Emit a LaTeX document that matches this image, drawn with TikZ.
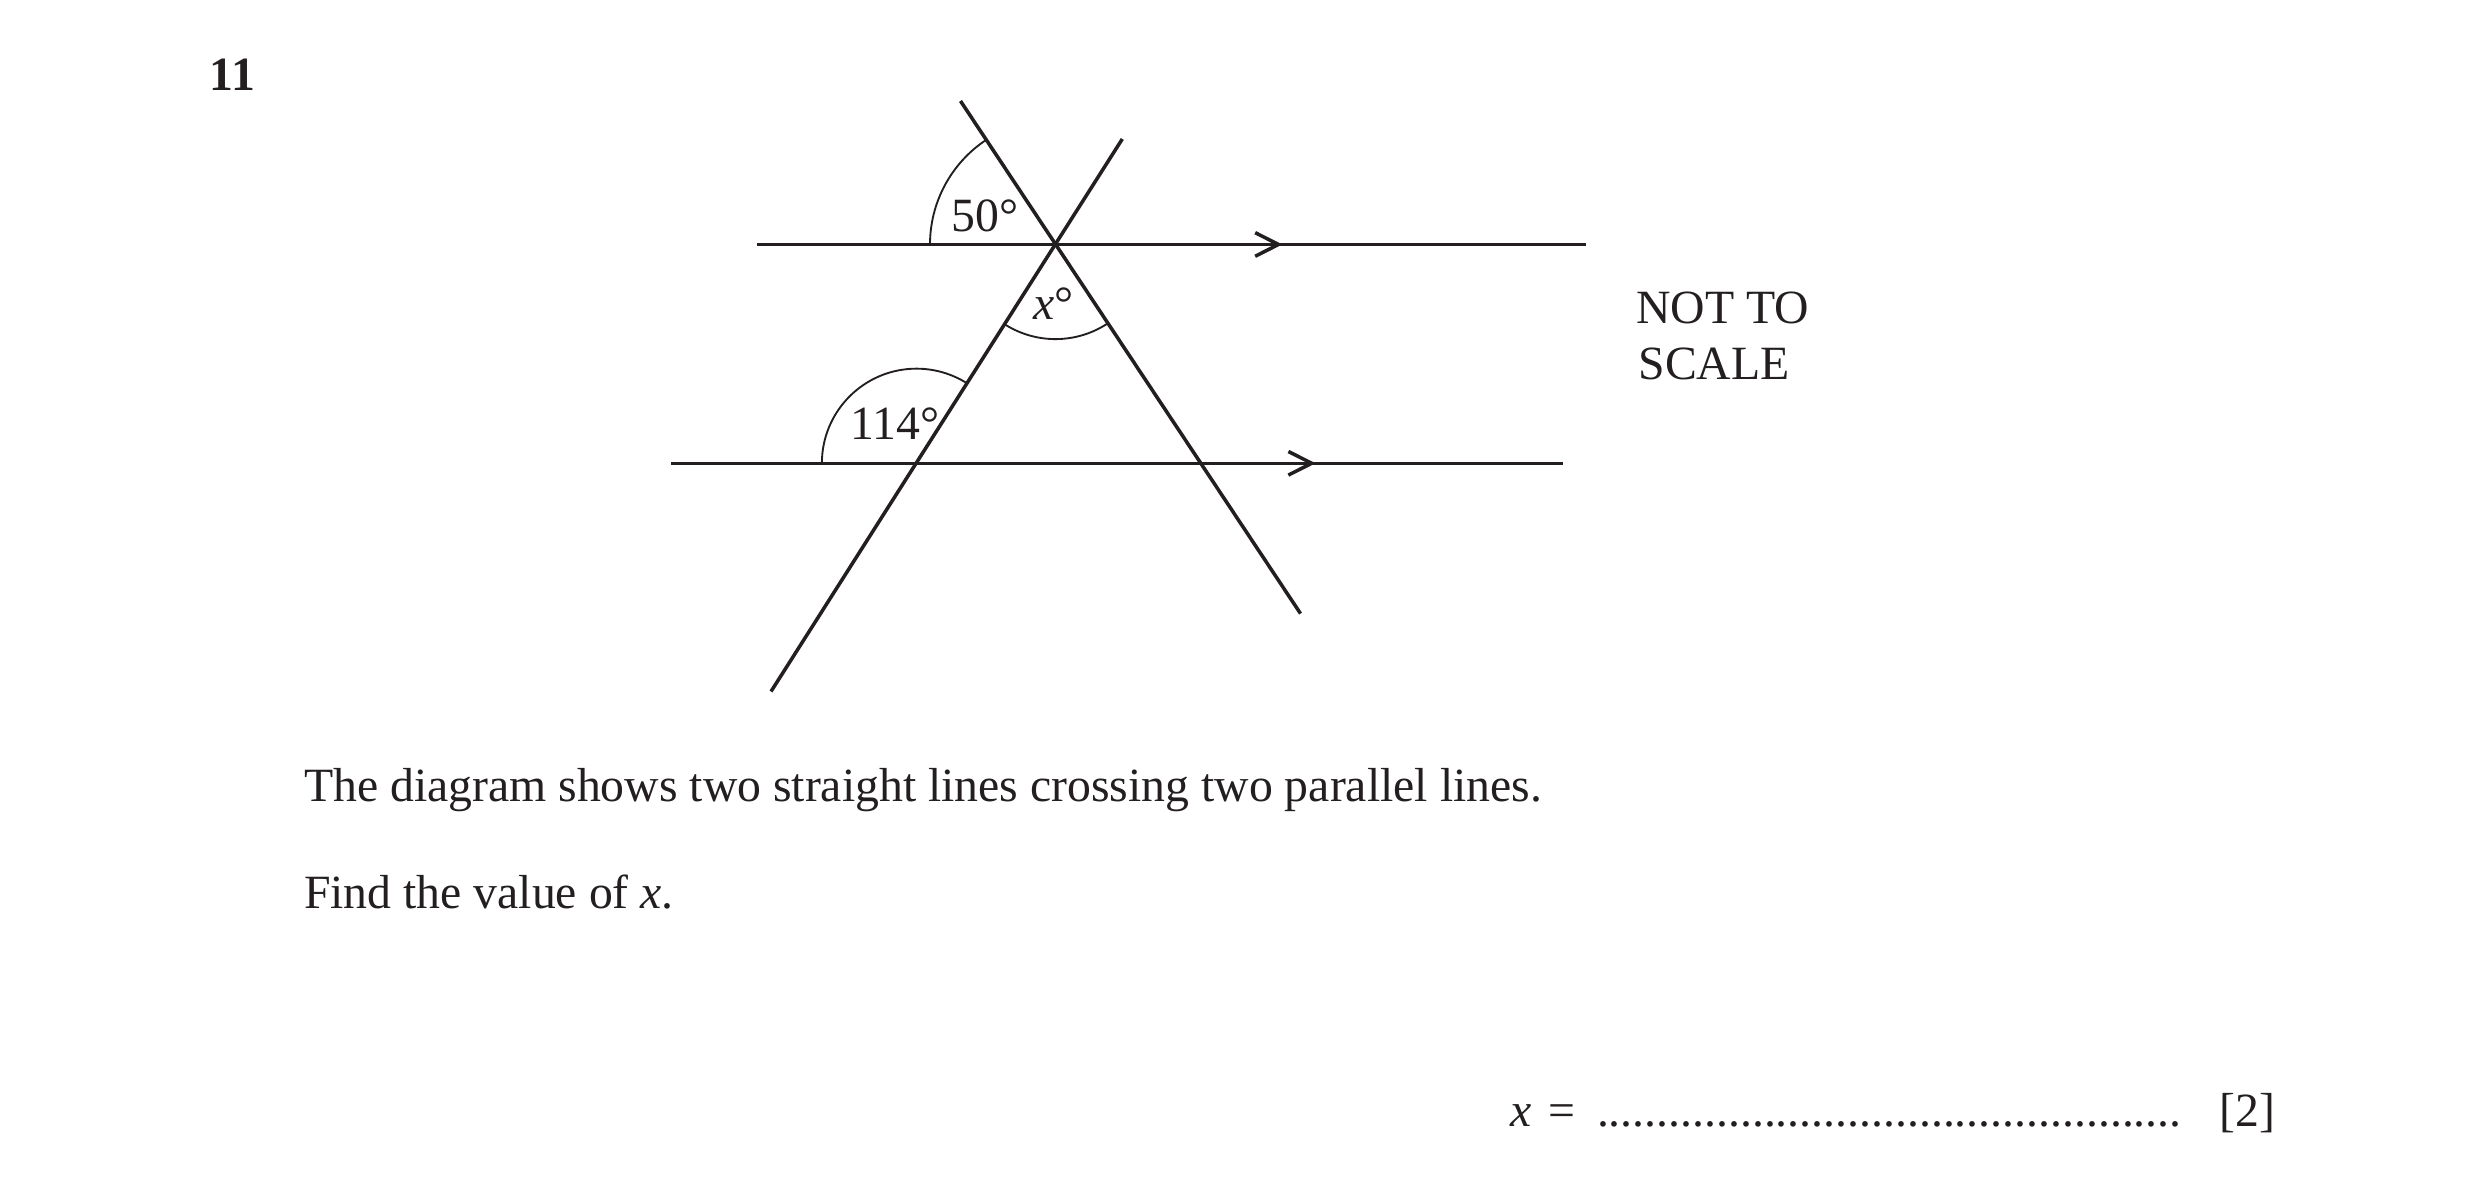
\documentclass[tikz,border=0pt]{standalone}
\usepackage{fontspec}
\setmainfont{Liberation Serif}
\definecolor{ink}{RGB}{35,31,32}
\begin{document}
\begin{tikzpicture}[x=0.0084667cm, y=0.0084667cm,
  line/.style={draw=ink, line width=0.85pt, line cap=butt},
  arcline/.style={draw=ink, line width=0.45pt},
  chev/.style={draw=ink, line width=0.85pt, line join=miter, miter limit=10},
  lbl/.style={anchor=base west, inner sep=0pt, outer sep=0pt, text=ink, font=\fontsize{11.5}{13.6}\selectfont}]
\useasboundingbox (0,0) rectangle (2481,1192);
% key points (pixel coordinates, y upwards)
\coordinate (P)  at (1055.5,947.5);
\coordinate (Q)  at (916.5,728.7);
\coordinate (H1a) at (757,947.5);
\coordinate (H1b) at (1586,947.5);
\coordinate (H2a) at (671,728.7);
\coordinate (H2b) at (1563.3,728.7);
\coordinate (Atop) at (960.5,1091);
\coordinate (Abot) at (1300.5,578.4);
\coordinate (Btop) at (1122.3,1053);
\coordinate (Bbot) at (771,500.5);
\coordinate (T1) at (1278.5,947.5);
\coordinate (T2) at (1311.7,728.7);
% lines
\draw[line] (H1a) -- (H1b);
\draw[line] (H2a) -- (H2b);
\draw[line] (Atop) -- (Abot);
\draw[line] (Btop) -- (Bbot);
% parallel arrows
\draw[chev] ([shift={(-23.3,11.8)}]T1) -- (T1) -- ([shift={(-23.3,-11.8)}]T1);
\draw[chev] ([shift={(-23.3,11.8)}]T2) -- (T2) -- ([shift={(-23.3,-11.8)}]T2);
% angle arcs
\draw[arcline] ([shift={(180:30.24pt)}]P) arc[start angle=180, end angle=123.55, radius=30.24pt];
\draw[arcline] ([shift={(237.5:22.8pt)}]P) arc[start angle=237.5, end angle=303.55, radius=22.8pt];
\draw[arcline] ([shift={(180:22.8pt)}]Q) arc[start angle=180, end angle=57.6, radius=22.8pt];
% labels
\node[lbl, font=\fontsize{11.5}{13.6}\selectfont\bfseries] (n11) at (210,1101.3) {11};
\node[lbl] (l50) at (951.5,960.3) {50°};
\node[lbl] (lx) at (1033,872) {\textit{x}°};
\node[lbl] (l114) at (850.5,752.7) {114°};
\node[lbl] (nts1) at (1636.5,868.7) {NOT TO};
\node[lbl] (nts2) at (1638.5,812) {SCALE};
\node[lbl] (t1) at (304,390.3) {The diagram shows two straight lines crossing two parallel lines.};
\node[lbl] (t2) at (304,283.7) {Find the value of \textit{x}.};
\node[lbl] (ax) at (1510,65.3) {\textit{x}\hspace{1.2pt} =};
\node[lbl] (adots) at (1597,65.3) {.................................................};
\node[lbl] (amark) at (2219.5,65.3) {[2]};
\end{tikzpicture}
\end{document}
